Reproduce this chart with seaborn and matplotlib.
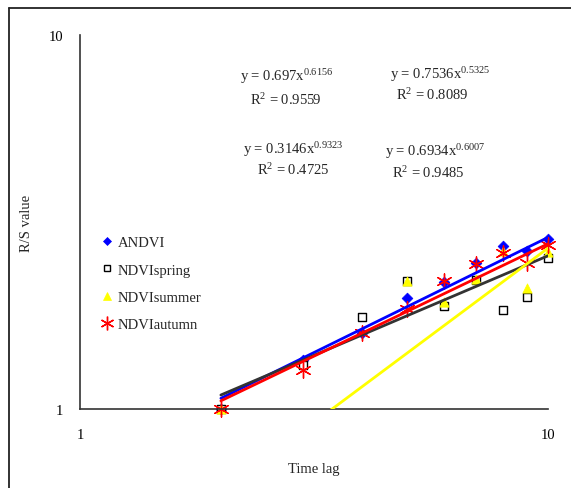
import numpy as np
import pandas as pd
import matplotlib
matplotlib.use("Agg")
import matplotlib.pyplot as plt
import seaborn as sns
from matplotlib.lines import Line2D

# ---- data ----
lag = [2, 3, 4, 5, 6, 7, 8, 9, 10]
andvi = [1.00, 1.35, 1.60, 1.98, 2.19, 2.45, 2.73, 2.65, 2.84]
spring = [1.00, 1.31, 1.76, 2.20, 1.88, 2.21, 1.84, 1.99, 2.53]
summer = [1.00, 0.30, 0.45, 2.20, 1.93, 2.23, 2.65, 2.10, 2.63]
autumn = [1.00, 1.27, 1.60, 1.85, 2.20, 2.44, 2.62, 2.46, 2.74]

series_names = ["ANDVI", "NDVIspring", "NDVIsummer", "NDVIautumn"]
coef_a = [0.697, 0.7536, 0.3146, 0.6934]
coef_b = [0.6156, 0.5325, 0.9323, 0.6007]
coef_a_txt = ["0.697", "0.7536", "0.3146", "0.6934"]
coef_b_txt = ["0.6156", "0.5325", "0.9323", "0.6007"]
r2_txt = ["0.9559", "0.8089", "0.4725", "0.9485"]

W, H = 571, 489
sns.set_theme(style="white")
plt.rcParams["font.family"] = ["Liberation Serif", "DejaVu Serif"]
plt.rcParams["mathtext.fontset"] = "custom"
plt.rcParams["mathtext.rm"] = "Liberation Serif"
plt.rcParams["mathtext.it"] = "Liberation Serif:italic"

fig = plt.figure(figsize=(W / 100, H / 100), dpi=100)
fig.patch.set_facecolor("white")
ax = fig.add_axes([80 / W, 1 - 410 / H, (548 - 80) / W, (410 - 36) / H])

values = [andvi, spring, summer, autumn]
df = pd.DataFrame({
    "lag": lag * 4,
    "rs": sum(values, []),
    "series": sum([[n] * len(lag) for n in series_names], []),
})

marker_styles = {
    "ANDVI": dict(marker="D", color="#0000FF", edgecolor="#0000FF", s=30, linewidth=0.5),
    "NDVIspring": dict(marker="s", color="white", edgecolor="black", s=28, linewidth=1.0),
    "NDVIsummer": dict(marker="^", color="#FFFF00", edgecolor="#FFFF00", s=45, linewidth=0.5),
    "NDVIautumn": dict(marker=(6, 2, 0), color="#FF0000", edgecolor="#FF0000", s=120, linewidth=1.0),
}
line_colors = ["#0000FF", "#333333", "#FFFF00", "#FF0000"]

handles = []
for name in series_names:
    sub = df[df["series"] == name]
    st = marker_styles[name]
    sns.scatterplot(data=sub, x="lag", y="rs", ax=ax, marker=st["marker"],
                    color=st["color"], edgecolor=st["edgecolor"], s=st["s"],
                    linewidth=st["linewidth"], zorder=2.5, legend=False, clip_on=False)
    handles.append(Line2D([], [], linestyle="none", marker=st["marker"],
                          markerfacecolor=st["color"], markeredgecolor=st["edgecolor"],
                          markersize=np.sqrt(st["s"]) * (0.8 if name != "NDVIautumn" else 0.9),
                          markeredgewidth=st["linewidth"], label=name))

# trendlines from the displayed power-law coefficients
xgrid = np.linspace(2, 10, 60)
for a, b, c in zip(coef_a, coef_b, line_colors):
    tdf = pd.DataFrame({"x": xgrid, "y": a * xgrid ** b})
    sns.lineplot(data=tdf, x="x", y="y", ax=ax, color=c, linewidth=2.0, zorder=3, legend=False)

ax.set_xscale("log")
ax.set_yscale("log")
ax.set_xlim(1, 10)
ax.set_ylim(1, 10)
ax.set_xticks([1, 10])
ax.set_yticks([1, 10])
ax.set_xticklabels(["1", "10"])
ax.set_yticklabels(["1", "10"])
ax.minorticks_off()
ax.tick_params(axis="both", which="major", direction="in", length=4, width=1,
               colors="black", labelsize=10.5)
ax.tick_params(axis="x", pad=14)
ax.tick_params(axis="y", pad=12)
for sp in ["top", "right"]:
    ax.spines[sp].set_visible(False)
for sp in ["left", "bottom"]:
    ax.spines[sp].set_color("#333333")
    ax.spines[sp].set_linewidth(1.2)

ax.set_xlabel("Time lag", fontsize=10.5, labelpad=14)
ax.set_ylabel("R/S value", fontsize=10.5, labelpad=20)
ax.xaxis.set_label_coords(0.5, -(463 - 410) / (410 - 36))
ax.yaxis.set_label_coords(-(80 - 33) / (548 - 80), 0.5)

leg = ax.legend(handles=handles, loc="upper left",
                bbox_to_anchor=((93 - 80) / (548 - 80), (410 - 230) / (410 - 36)),
                frameon=False, fontsize=10.5, handlelength=0.9, handletextpad=0.3,
                labelspacing=0.95, borderpad=0)

# equations
eq_pos = [((287, 77), (286, 100)), ((440, 75), (432, 95)),
          ((293, 150), (293, 170)), ((435, 152), (428, 173))]
for (p1, p2), a, b, r in zip(eq_pos, coef_a_txt, coef_b_txt, r2_txt):
    fig.text(p1[0] / W, 1 - p1[1] / H, "y = " + a + "x$^{\\mathrm{" + b + "}}$",
             ha="center", va="center", fontsize=10.5)
    fig.text(p2[0] / W, 1 - p2[1] / H, "R$^{\\mathrm{2}}$ = " + r,
             ha="center", va="center", fontsize=10.5)

# outer frame (left and top edges)
fig.add_artist(Line2D([9 / W, 9 / W], [0, 1 - 9 / H], color="#222222", linewidth=1.3,
                      transform=fig.transFigure))
fig.add_artist(Line2D([9 / W, 1], [1 - 9 / H, 1 - 9 / H], color="#222222", linewidth=1.3,
                      transform=fig.transFigure))

fig.savefig("out.png", dpi=100, facecolor="white")
